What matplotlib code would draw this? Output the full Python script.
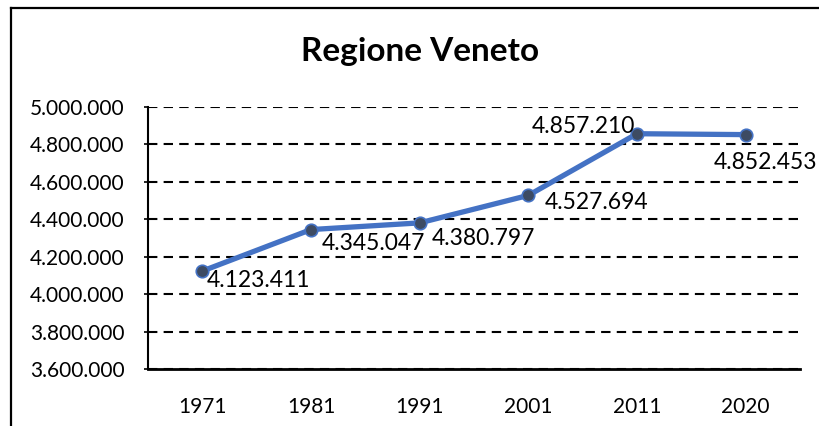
import matplotlib
matplotlib.use("Agg")
import matplotlib.pyplot as plt
from matplotlib.lines import Line2D
import matplotlib.ticker as plticker

# Data
years = ["1971", "1981", "1991", "2001", "2011", "2020"]
population = [4123411, 4345047, 4380797, 4527694, 4857210, 4852453]
point_labels = ["4.123.411", "4.345.047", "4.380.797", "4.527.694", "4.857.210", "4.852.453"]

plt.rcParams['font.family'] = ['Lato', 'DejaVu Sans']

fig = plt.figure(figsize=(8.2, 4.26), dpi=100)
ax = fig.add_axes([148/820, 1-369/426, 652/820, 262/426])

x = list(range(len(years)))
ax.plot(x, population, color='#4472C4', linewidth=3.8, marker='o', markersize=9,
        markerfacecolor='#3D4B63', markeredgecolor='#4472C4', markeredgewidth=1.2,
        zorder=3)

# label offsets in points (dx, dy, ha)
offsets = [(3, -7, 'left'), (8, -10, 'left'), (8.6, -11.5, 'left'), (12, -5, 'left'),
           (-1.4, 5, 'right'), (14, -20, 'center')]
for i, lab in enumerate(point_labels):
    dx, dy, ha = offsets[i]
    ax.annotate(lab, (x[i], population[i]), xytext=(dx, dy), textcoords='offset points',
                ha=ha, va='center', fontsize=16.5, color='black', zorder=4)

ax.set_xlim(-0.5, len(years)-0.5)
ax.set_ylim(3600000, 5000000)
ax.set_xticks(x)
ax.set_xticklabels(years)
ax.yaxis.set_major_locator(plticker.MultipleLocator(200000))
ax.yaxis.set_major_formatter(plticker.FuncFormatter(lambda v, p: f"{int(v):,}".replace(",", ".")))
ax.tick_params(axis='y', length=3, width=1.2, labelsize=15, pad=14, colors='black')
ax.tick_params(axis='x', length=0, labelsize=15, pad=20, colors='black')

ax.grid(axis='y', color='black', linestyle=(0, (4.5, 3)), linewidth=1.5)
ax.set_axisbelow(True)
ax.spines['top'].set_visible(False)
ax.spines['right'].set_visible(False)
ax.spines['left'].set_linewidth(1.5)
ax.spines['bottom'].set_linewidth(2)

fig.text(420/820, 1-52/426, "Regione Veneto", ha='center', va='center',
         fontsize=24, fontweight='bold')

# outer chart frame (cropped at right and bottom)
fig.add_artist(Line2D([11.5/820, 11.5/820], [0, 1-8/426], color='black', linewidth=1.6,
                      transform=fig.transFigure))
fig.add_artist(Line2D([11.5/820, 1], [1-8/426, 1-8/426], color='black', linewidth=1.6,
                      transform=fig.transFigure))

fig.savefig("out.png", dpi=100)
